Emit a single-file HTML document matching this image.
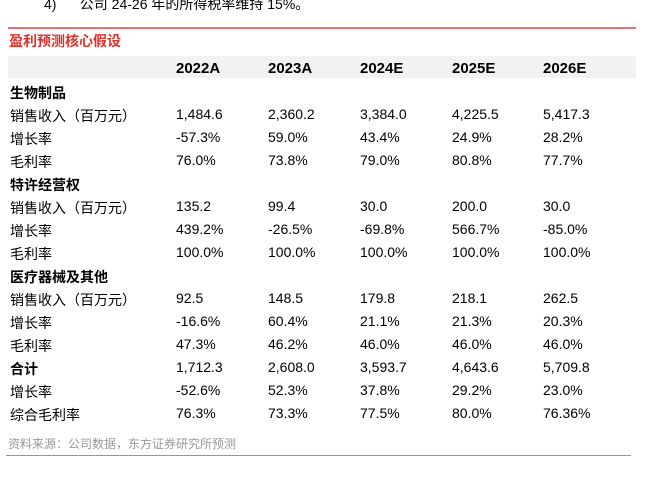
<!DOCTYPE html>
<html><head><meta charset="utf-8"><style>
body{margin:0;width:652px;height:488px;background:#fff;position:relative;overflow:hidden;font-family:"Liberation Sans","Noto Sans CJK SC",sans-serif;color:#000}
.a{position:absolute;white-space:nowrap;line-height:1}
.r{position:absolute;left:0;width:652px;height:23px;font-size:14px}
.r span{position:absolute;top:4px;white-space:nowrap}
.b{font-weight:bold}
</style></head><body>
<div class="a" style="left:44px;top:-3px;font-size:14px">4)&nbsp;&nbsp;&nbsp;&nbsp;&nbsp; 公司 24-26 年的所得税率维持 15%。</div>
<div class="a" style="left:8px;top:27px;width:628px;height:2px;background:#e57373"></div>
<div class="a" style="left:9px;top:34px;font-size:14px;color:#e0302a;font-weight:bold">盈利预测核心假设</div>
<div class="a" style="left:8px;top:56px;width:628px;height:22px;background:#f2f2f2"></div>
<div id="tbl"></div>
<div class="a" style="left:8px;top:438px;font-size:12px;color:#999">资料来源：公司数据，东方证券研究所预测</div>
<div class="a" style="left:6px;top:455px;width:625px;height:1px;background:#e57373"></div>
<script>
const cols=["2022A","2023A","2024E","2025E","2026E"];
const rows=[
["生物制品",null,1],
["销售收入（百万元）",["1,484.6","2,360.2","3,384.0","4,225.5","5,417.3"]],
["增长率",["-57.3%","59.0%","43.4%","24.9%","28.2%"]],
["毛利率",["76.0%","73.8%","79.0%","80.8%","77.7%"]],
["特许经营权",null,1],
["销售收入（百万元）",["135.2","99.4","30.0","200.0","30.0"]],
["增长率",["439.2%","-26.5%","-69.8%","566.7%","-85.0%"]],
["毛利率",["100.0%","100.0%","100.0%","100.0%","100.0%"]],
["医疗器械及其他",null,1],
["销售收入（百万元）",["92.5","148.5","179.8","218.1","262.5"]],
["增长率",["-16.6%","60.4%","21.1%","21.3%","20.3%"]],
["毛利率",["47.3%","46.2%","46.0%","46.0%","46.0%"]],
["合计",["1,712.3","2,608.0","3,593.7","4,643.6","5,709.8"],1],
["增长率",["-52.6%","52.3%","37.8%","29.2%","23.0%"]],
["综合毛利率",["76.3%","73.3%","77.5%","80.0%","76.36%"]]
];
const colX=[176,268,360,452,543];
const t=document.getElementById('tbl');
let h=document.createElement('div');h.className='r b';h.style.top='56px';h.style.fontSize='15px';


cols.forEach((c,i)=>{const s=document.createElement('span');s.textContent=c;s.style.left=colX[i]+'px';s.style.top='4px';


h.appendChild(s);});
t.appendChild(h);
rows.forEach((r,k)=>{const d=document.createElement('div');d.className='r';d.style.top=(79+k*23)+'px';


const l=document.createElement('span');l.textContent=r[0];l.style.left='10px';if(r[2])l.className='b';


d.appendChild(l);
if(r[1])r[1].forEach((v,i)=>{const s=document.createElement('span');s.textContent=v;s.style.left=colX[i]+'px';


d.appendChild(s);});
t.appendChild(d);});
</script>
</body></html>
